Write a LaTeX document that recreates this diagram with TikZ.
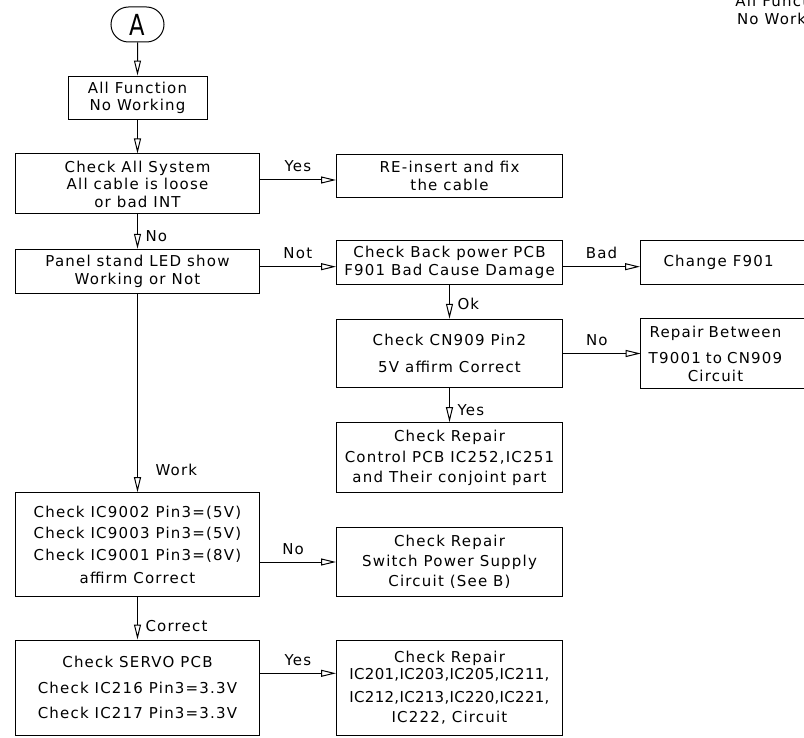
\documentclass[tikz,border=0pt]{standalone}
\usepackage{fontspec}
\setmainfont{DejaVu Sans}[LetterSpace=8]
\usetikzlibrary{arrows.meta,shapes.misc}
\newcommand\fs{\fontsize{15}{17.5}\selectfont}
\newcommand\tightls{\addfontfeature{LetterSpace=2}}
\tikzset{
  box/.style={draw, line width=1pt, inner sep=0pt, align=center, font=\fs},
  openbox/.style={box, draw=none},
  arr/.style={line width=1pt, -{Triangle[open, length=15pt, width=7pt, line width=1pt]}},
  hlbl/.style={font=\fs, inner sep=0pt, anchor=base, midway, yshift=8pt},
  vlbl/.style={font=\fs, inner sep=0pt, anchor=base west, pos=1, xshift=7.5pt, yshift=#1},
  vlbl/.default=7.5pt,
  frame/.style={line width=1pt},
}
\begin{document}
\begin{tikzpicture}[x=1pt,y=-1pt]
\useasboundingbox (0,0) rectangle (804,738);
\clip (0,0) rectangle (804,738);
\coordinate (Y1) at (0,180);
\coordinate (Y2) at (0,266.7);
\coordinate (Y3) at (0,673.3);

\node[box, rounded rectangle, minimum width=53, minimum height=35, font=\fontsize{29}{30}\selectfont] (A) at (137.5,24.5) {\scalebox{0.78}[1]{A}};
\node[box, minimum width=139, minimum height=43.3] (b1) at (137.5,97.7) {All Function\\No Working};
\node[box, minimum width=243.3, minimum height=60] (b2) at (137.5,184) {Check All System\\All cable is loose\\or bad INT};
\node[box, minimum width=226, minimum height=43.3] (b3) at (449.5,175.7) {RE-insert and fix\\the cable};
\node[box, minimum width=243.3, minimum height=44] (b4) at (137.5,271.3) {Panel stand LED show\\Working or Not};
\node[box, minimum width=226, minimum height=43.6] (b5) at (449.5,262.5) {Check Back power PCB\\F901 Bad Cause Damage};
\node[openbox, anchor=west, minimum height=43.6, inner xsep=23pt, align=left] (b6) at (640,262.5) {Change F901};
\node[box, minimum width=226, minimum height=68.4] (b7) at (449.5,353.5) {Check CN909 Pin2\\[9pt]5V affirm Correct};
\node[openbox, anchor=west, minimum height=68.4, text width=148.6pt] (b8) at (640.7,353.5) {Repair Between\\[9pt]T9001 to CN909\\Circuit};
\node[box, minimum width=226, minimum height=69.6] (b9) at (449.5,457.5) {Check Repair\\[4pt]Control PCB IC252,IC251\\[2pt]and Their conjoint part};
\node[box, minimum width=243.3, minimum height=104] (b10) at (137.5,544.7) {Check IC9002 Pin3=(5V)\\[4pt]Check IC9003 Pin3=(5V)\\[4pt]Check IC9001 Pin3=(8V)\\[6pt]affirm Correct};
\node[box, minimum width=226, minimum height=69.4] (b11) at (449.5,562) {Check Repair\\[2.5pt]Switch Power Supply\\[2.5pt]Circuit (See B)};
\node[box, minimum width=243.3, minimum height=95] (b12) at (137.5,687.5) {Check SERVO PCB\\[9pt]Check IC216 Pin3=3.3V\\[7.5pt]Check IC217 Pin3=3.3V};
\node[box, minimum width=226, minimum height=95] (b13) at (449.5,687.5) {Check Repair\\{\tightls IC201,IC203,IC205,IC211,}\\[5pt]{\tightls IC212,IC213,IC220,IC221,}\\[3pt]IC222, Circuit};
\node[font=\fontsize{15}{18}\selectfont, align=center, inner sep=0pt] (tr) at (785,11) {All Function\\No Working};

\draw[frame] ([xshift=60pt]b6.north east) -- (b6.north west) -- (b6.south west) -- ([xshift=60pt]b6.south east);
\draw[frame] ([xshift=60pt]b8.north east) -- (b8.north west) -- (b8.south west) -- ([xshift=60pt]b8.south east);

\draw[arr] (A) -- (b1);
\draw[arr] (b1) -- (b2);
\draw[arr] (b2.east |- Y1) -- node[hlbl]{Yes} (b3.west |- Y1);
\draw[arr] (b2) -- node[vlbl=7pt]{No} (b4);
\draw[arr] (b4.east |- Y2) -- node[hlbl]{Not} (b5.west |- Y2);
\draw[arr] (b5.east |- Y2) -- node[hlbl]{Bad} (b6.west |- Y2);
\draw[arr] (b5) -- node[vlbl=8.8pt]{Ok} (b7);
\draw[arr] (b7) -- node[hlbl, xshift=-5pt]{No} (b8);
\draw[arr] (b7) -- node[vlbl=7.2pt]{Yes} (b9);
\draw[arr] (b4) -- node[vlbl=17.2pt, xshift=10pt]{Work} (b10);
\draw[arr] (b10.east |- b11.west) -- node[hlbl, xshift=-4.7pt]{No} (b11.west);
\draw[arr] (b10) -- node[vlbl=8.5pt]{Correct} (b12);
\draw[arr] (b12.east |- Y3) -- node[hlbl]{Yes} (b13.west |- Y3);
\end{tikzpicture}
\end{document}
